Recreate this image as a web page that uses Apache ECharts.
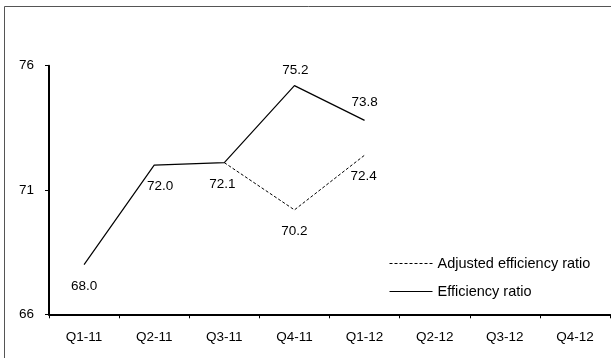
<!DOCTYPE html>
<html>
<head>
<meta charset="utf-8">
<style>
  html, body { margin: 0; padding: 0; background: #fff; }
  #chart { width: 611px; height: 358px; }
</style>
<script src="https://cdn.jsdelivr.net/npm/echarts@6/dist/echarts.min.js"></script>
</head>
<body>
<div id="chart"></div>
<script>
// Quarterly efficiency ratios (%)
const quarters = ['Q1-11', 'Q2-11', 'Q3-11', 'Q4-11', 'Q1-12', 'Q2-12', 'Q3-12', 'Q4-12'];
const efficiencyRatio = [68.0, 72.0, 72.1, 75.2, 73.8, null, null, null];
const adjustedEfficiencyRatio = [null, null, 72.1, 70.2, 72.4, null, null, null];
const yTicks = [66, 71, 76];

// Label placement (pixel offsets from each point), kept apart from the values
const efficiencyLabelOffsets = [[0, 22], [6, 21.5], [-2, 21.5], [1, -15], [0, -18]];
const adjustedLabelOffsets = [null, null, null, [0, 21], [-1, 21]];

const FONT = 'Liberation Sans, Arial, sans-serif';

function withLabels(values, offsets) {
  return values.map((v, i) => {
    if (v == null) return '-';
    const off = offsets[i];
    if (!off) return { value: v, label: { show: false } };
    return { value: v, label: { show: true, offset: off } };
  });
}

const chart = echarts.init(document.getElementById('chart'), null, { renderer: 'canvas' });

const option = {
  backgroundColor: '#fff',
  animation: false,
  graphic: [{
    type: 'rect',
    shape: { x: 4.5, y: 6.5, width: 700, height: 400 },
    style: { fill: 'none', stroke: '#555', lineWidth: 1 },
    silent: true,
    z: 0
  }],
  grid: {
    left: 49, right: 1, top: 65.7, bottom: 43.7,
    outerBoundsMode: 'none'
  },
  legend: {
    orient: 'vertical',
    left: 384,
    top: 251,
    itemWidth: 43,
    itemHeight: 14,
    itemGap: 13,
    data: ['Adjusted efficiency ratio', 'Efficiency ratio'],
    itemStyle: { opacity: 0 },
    lineStyle: { width: 1 },
    textStyle: { fontFamily: FONT, fontSize: 14.5, color: '#000' }
  },
  xAxis: {
    type: 'category',
    data: quarters,
    boundaryGap: true,
    axisLine: { lineStyle: { color: '#000', width: 2 } },
    axisTick: { show: true, length: 4, interval: 0, lineStyle: { color: '#000', width: 1 } },
    axisLabel: { interval: 0, margin: 16, fontFamily: FONT, fontSize: 13.5, color: '#000' },
    splitLine: { show: false }
  },
  yAxis: {
    type: 'value',
    min: yTicks[0],
    max: yTicks[yTicks.length - 1],
    interval: yTicks[1] - yTicks[0],
    axisLine: { show: true, lineStyle: { color: '#000', width: 2 } },
    axisTick: { show: true, length: 4, lineStyle: { color: '#000', width: 1 } },
    axisLabel: { margin: 15, fontFamily: FONT, fontSize: 13.5, color: '#000' },
    splitLine: { show: false }
  },
  series: [
    {
      name: 'Adjusted efficiency ratio',
      type: 'line',
      data: withLabels(adjustedEfficiencyRatio, adjustedLabelOffsets),
      symbol: 'circle',
      symbolSize: 0,
      connectNulls: false,
      lineStyle: { color: '#000', width: 1, type: [3, 2] },
      itemStyle: { color: '#000' },
      label: {
        position: 'inside', align: 'center', verticalAlign: 'middle',
        fontFamily: FONT, fontSize: 13.5, color: '#000',
        formatter: p => p.value.toFixed(1)
      },
      z: 2
    },
    {
      name: 'Efficiency ratio',
      type: 'line',
      data: withLabels(efficiencyRatio, efficiencyLabelOffsets),
      symbol: 'circle',
      symbolSize: 0,
      connectNulls: false,
      lineStyle: { color: '#000', width: 1.2, type: 'solid' },
      itemStyle: { color: '#000' },
      label: {
        position: 'inside', align: 'center', verticalAlign: 'middle',
        fontFamily: FONT, fontSize: 13.5, color: '#000',
        formatter: p => p.value.toFixed(1)
      },
      z: 3
    }
  ]
};

chart.setOption(option);
</script>
</body>
</html>
